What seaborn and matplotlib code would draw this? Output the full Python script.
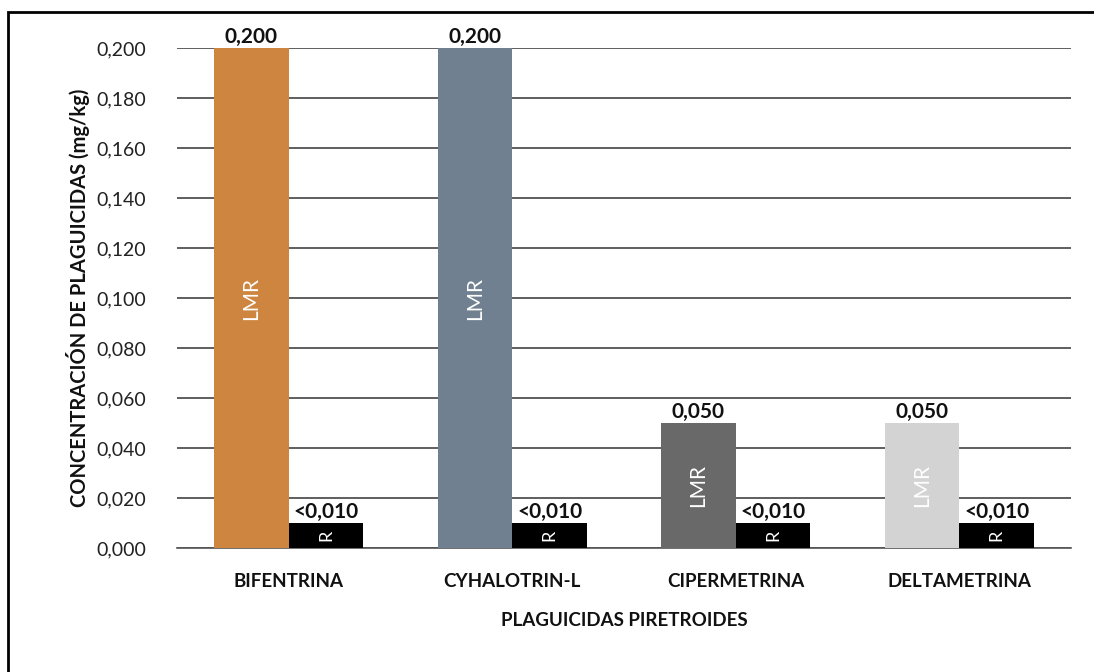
import matplotlib
matplotlib.use("Agg")
import matplotlib.pyplot as plt
import seaborn as sns
import pandas as pd
from matplotlib.patches import Rectangle

categories = ["BIFENTRINA", "CYHALOTRIN-L", "CIPERMETRINA", "DELTAMETRINA"]
lmr_values = [0.200, 0.200, 0.050, 0.050]
r_values = [0.010, 0.010, 0.010, 0.010]
lmr_labels = ["0,200", "0,200", "0,050", "0,050"]
r_labels = ["<0,010", "<0,010", "<0,010", "<0,010"]
lmr_colors = ["#CD853F", "#708090", "#696969", "#D3D3D3"]
r_color = "#000000"
yticks = [0.0, 0.02, 0.04, 0.06, 0.08, 0.10, 0.12, 0.14, 0.16, 0.18, 0.20]

sns.set_theme(style="white")
plt.rcParams["font.family"] = ["Lato", "DejaVu Sans"]

df = pd.DataFrame({
    "cat": categories * 2,
    "serie": ["LMR"] * 4 + ["R"] * 4,
    "val": lmr_values + r_values,
})

fig = plt.figure(figsize=(10.94, 6.72), dpi=100)
ax = fig.add_axes([177 / 1094, 1 - 548 / 672, (1071 - 177) / 1094, (548 - 48) / 672])

sns.barplot(data=df, x="cat", y="val", hue="serie", order=categories,
            hue_order=["LMR", "R"], palette=["#888888", r_color],
            width=0.667, saturation=1, ax=ax, legend=False, zorder=3)

lmr_cont, r_cont = ax.containers[0], ax.containers[1]
for p, c in zip(lmr_cont.patches, lmr_colors):
    p.set_facecolor(c)
    p.set_edgecolor("none")
for p in r_cont.patches:
    p.set_facecolor(r_color)
    p.set_edgecolor("none")

ax.set_ylim(0, 0.2)
ax.set_yticks(yticks)
ax.set_yticklabels([f"{v:.3f}".replace(".", ",") for v in yticks], fontsize=14, color="#222222")
ax.tick_params(axis="y", length=0, pad=22)
ax.tick_params(axis="x", length=0, pad=18)
for t in ax.get_xticklabels():
    t.set_fontweight("bold")
    t.set_fontsize(13.5)
    t.set_color("#111111")

ax.yaxis.grid(True, color="#333333", linewidth=1.1, zorder=0)
ax.set_axisbelow(True)
for s in ["left", "right", "top"]:
    ax.spines[s].set_visible(False)
ax.spines["bottom"].set_color("#555555")
ax.spines["bottom"].set_linewidth(1.2)

ax.bar_label(lmr_cont, labels=lmr_labels, fontsize=15, fontweight="bold", padding=1, color="#111111")
ax.bar_label(r_cont, labels=r_labels, fontsize=15, fontweight="bold", padding=1, color="#111111")

for p in lmr_cont.patches:
    ax.text(p.get_x() + p.get_width() / 2, p.get_height() / 2, "LMR", rotation=90,
            ha="center", va="center", color="white", fontsize=15, zorder=4)
for p in r_cont.patches:
    ax.text(p.get_x() + p.get_width() / 2, p.get_height() / 2, "R", rotation=90,
            ha="center", va="center", color="white", fontsize=13, zorder=4)

ax.set_xlabel("PLAGUICIDAS PIRETROIDES", fontsize=13.5, fontweight="bold", labelpad=16, color="#111111")
ax.set_ylabel("CONCENTRACIÓN DE PLAGUICIDAS (mg/kg)", fontsize=14.5, fontweight="bold", labelpad=5, color="#111111")

fig.add_artist(Rectangle((8 / 1094, -0.1), 1.2, 0.1 + 1 - 12 / 672, transform=fig.transFigure,
                         fill=False, edgecolor="black", linewidth=2))

fig.savefig("out.png", dpi=100)
